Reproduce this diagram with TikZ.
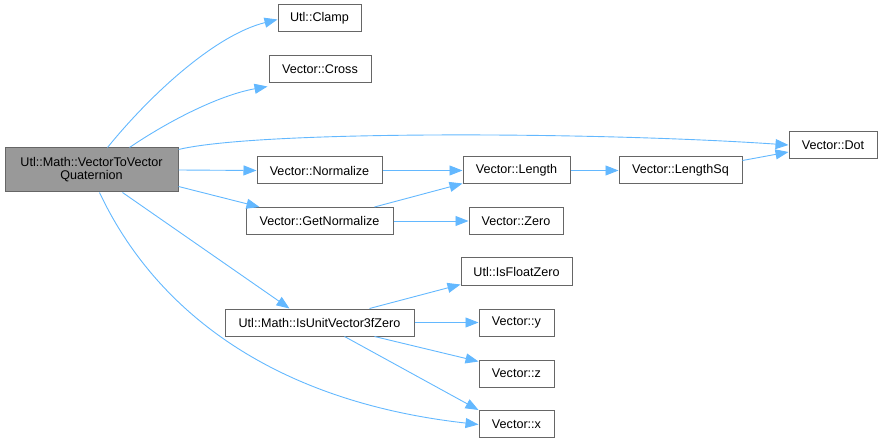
\documentclass[tikz,border=0pt]{standalone}
\usepackage{fontspec}
\setmainfont{Liberation Sans}
\usetikzlibrary{arrows.meta}
\definecolor{edgec}{HTML}{63B8FF}
\definecolor{boxb}{HTML}{666666}
\definecolor{mainf}{HTML}{999999}
\tikzset{
  box/.style={draw=boxb, line width=1pt, fill=white, inner sep=0pt, minimum height=27pt, font=\fontsize{12.6}{14}\selectfont},
  mainbox/.style={box, fill=mainf, draw=boxb, minimum height=44pt, align=center},
  edge/.style={draw=edgec, line width=0.9pt, -{Stealth[length=13pt,width=10pt,inset=0pt]}}
}
\begin{document}
\begin{tikzpicture}[x=1pt,y=-1pt]
\useasboundingbox (0,0) rectangle (882,443);
\node[mainbox, minimum width=173pt] (main) at (91.5,170) {Utl::Math::VectorToVector\\[-1pt]Quaternion};
\node[box, minimum width=83pt] (clamp) at (319.5,18.5) {Utl::Clamp};
\node[box, minimum width=102pt] (cross) at (320,69.5) {Vector::Cross};
\node[box, minimum width=125pt] (norm) at (319.5,170.5) {Vector::Normalize};
\node[box, minimum width=107pt] (len) at (516.5,170.5) {Vector::Length};
\node[box, minimum width=147pt] (getn) at (319.5,221) {Vector::GetNormalize};
\node[box, minimum width=94pt] (zero) at (516,221) {Vector::Zero};
\node[box, minimum width=123pt] (lensq) at (680.5,170.5) {Vector::LengthSq};
\node[box, minimum width=88pt] (dot) at (833,145.5) {Vector::Dot};
\node[box, minimum width=189pt] (isunit) at (319.5,322.5) {Utl::Math::IsUnitVector3fZero};
\node[box, minimum width=111pt] (isfz) at (516.5,271.5) {Utl::IsFloatZero};
\node[box, minimum width=75pt] (vy) at (516.5,322.5) {Vector::y};
\node[box, minimum width=75pt] (vz) at (516.5,373.5) {Vector::z};
\node[box, minimum width=75pt] (vx) at (516.5,424) {Vector::x};

\draw[edge] ([xshift=103pt]main.north west) .. controls (150,95) and (215,35) .. ([yshift=-1pt]clamp.west);
\draw[edge] ([xshift=125pt]main.north west) .. controls (170,120) and (220,95) .. ([xshift=-1pt,yshift=-3pt]cross.south west);
\draw[edge] ([yshift=-2pt]main.north east) .. controls (260,130) and (600,132) .. ([yshift=0.5pt]dot.west);
\draw[edge] (main.east) -- (norm.west);
\draw[edge] ([yshift=6pt]main.south east) -- ([xshift=14pt]getn.north west);
\draw[edge] ([xshift=118pt]main.south west) -- ([xshift=65pt]isunit.north west);
\draw[edge] ([xshift=95pt]main.south west) .. controls (150,300) and (260,400) .. ([yshift=-0.5pt]vx.west);
\draw[edge] (norm.east) -- (len.west);
\draw[edge] ([xshift=129pt]getn.north west) -- ([yshift=1pt]len.south west);
\draw[edge] (getn.east) -- (zero.west);
\draw[edge] (len.east) -- (lensq.west);
\draw[edge] ([yshift=-4pt]lensq.north east) -- ([yshift=-6.5pt]dot.west);
\draw[edge] ([xshift=145pt]isunit.north west) -- ([yshift=1pt]isfz.south west);
\draw[edge] (isunit.east) -- (vy.west);
\draw[edge] ([xshift=150pt]isunit.south west) -- ([yshift=-2pt]vz.north west);
\draw[edge] ([xshift=120pt]isunit.south west) -- (vx.north west);
\end{tikzpicture}
\end{document}
